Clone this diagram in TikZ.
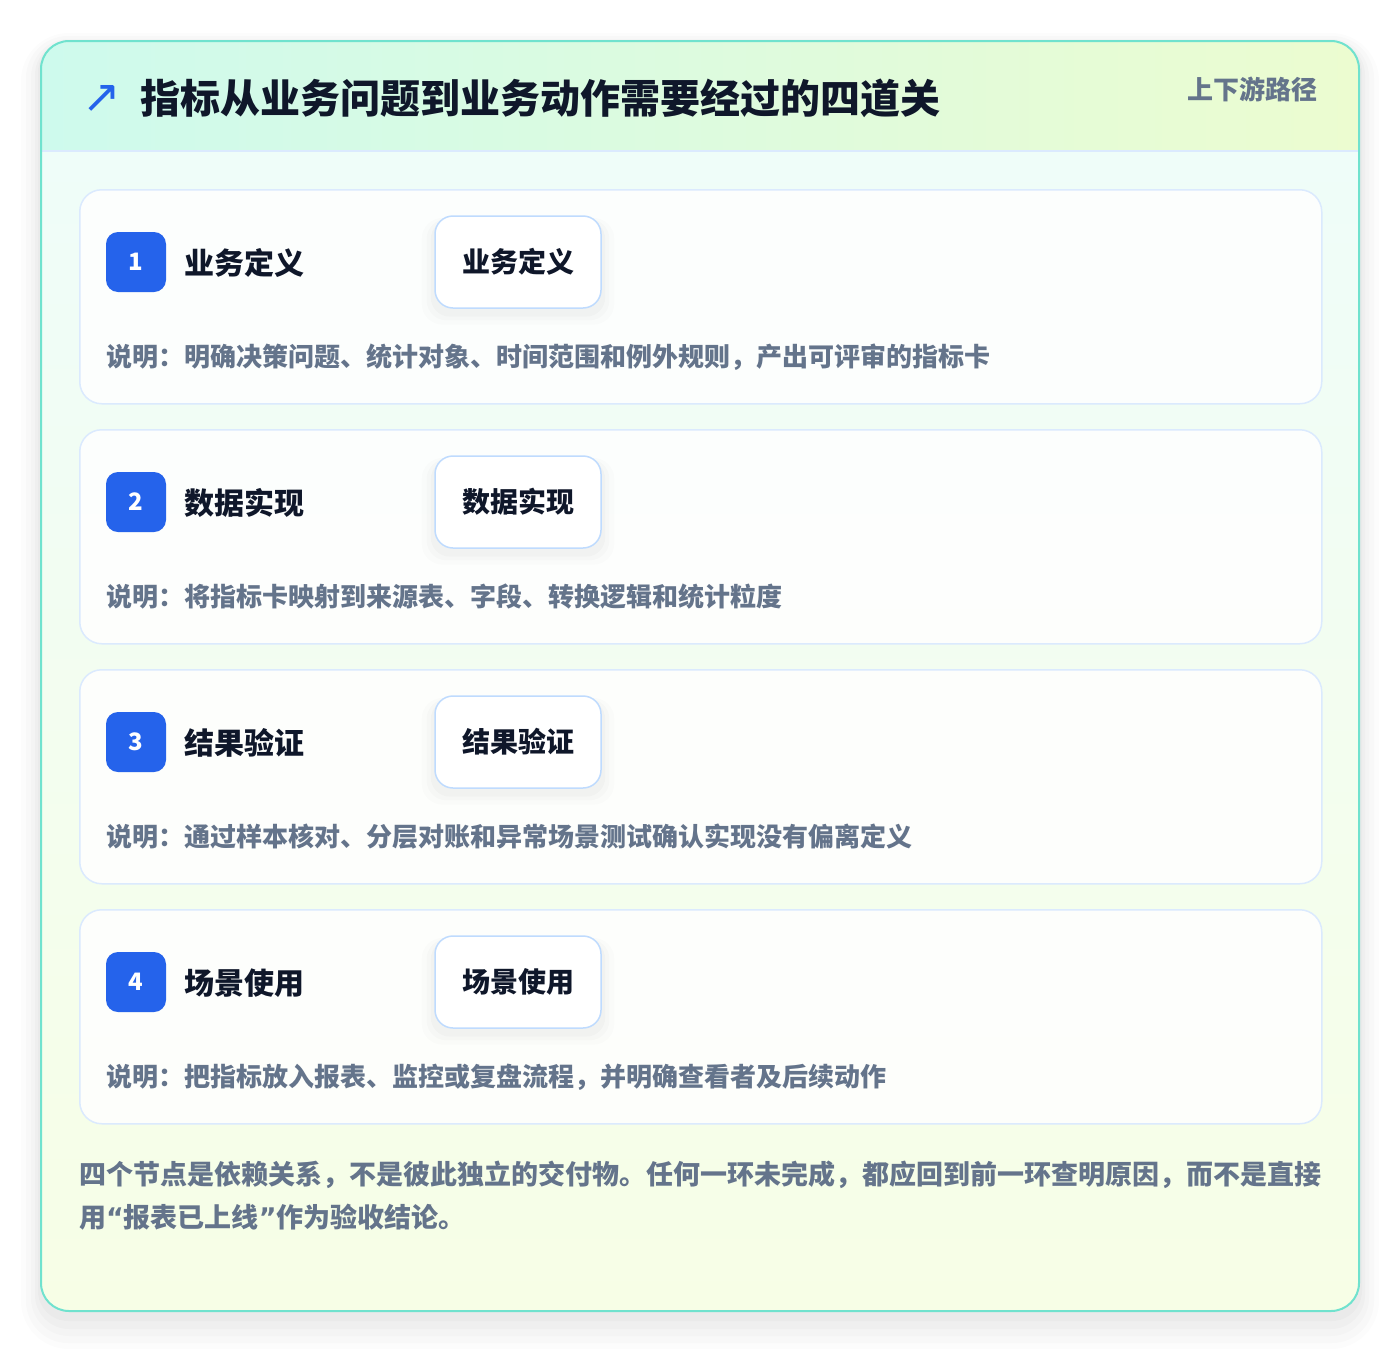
\documentclass[tikz,border=0pt]{standalone}
\usepackage{fontspec}
\setmainfont{Noto Sans CJK SC}
\newfontfamily\symfont{DejaVu Sans}
\usetikzlibrary{shadows}

\definecolor{panelline}{RGB}{112,226,206}
\definecolor{headleft}{RGB}{206,250,237}
\definecolor{headright}{RGB}{236,252,208}
\definecolor{bodytop}{RGB}{239,253,249}
\definecolor{bodybot}{RGB}{247,254,230}
\definecolor{cardline}{RGB}{219,234,254}
\definecolor{boxline}{RGB}{191,219,254}
\definecolor{badgeblue}{RGB}{37,99,235}
\definecolor{ink}{RGB}{15,23,42}
\definecolor{muted}{RGB}{100,116,139}

\begin{document}
\begin{tikzpicture}[x=1pt, y=-1pt,
  card/.style={draw=cardline, line width=1.5pt, fill=white, fill opacity=0.85, rounded corners=22pt,
    minimum width=1242pt, minimum height=214pt, anchor=north west, inner sep=0pt},
  badge/.style={fill=badgeblue, rounded corners=12pt, minimum size=60pt, inner sep=0pt,
    text=white, font=\bfseries\fontsize{24}{28}\selectfont},
  steptitle/.style={anchor=west, inner sep=0pt, text=ink, font=\bfseries\fontsize{30}{36}\selectfont},
  stagebox/.style={draw=boxline, line width=1.5pt, fill=white, rounded corners=18pt,
    minimum width=166pt, minimum height=92pt, inner sep=0pt, text=ink,
    font=\bfseries\fontsize{28}{34}\selectfont,
    drop shadow={shadow xshift=0pt, shadow yshift=-8pt, shadow scale=1.16, fill=black, opacity=0.012},
    drop shadow={shadow xshift=0pt, shadow yshift=-7pt, shadow scale=1.10, fill=black, opacity=0.016},
    drop shadow={shadow xshift=0pt, shadow yshift=-6pt, shadow scale=1.05, fill=black, opacity=0.02}},
  desc/.style={anchor=west, inner sep=0pt, text=muted, font=\bfseries\fontsize{26}{30}\selectfont},
  note/.style={anchor=west, inner sep=0pt, text=muted, font=\bfseries\fontsize{27}{32}\selectfont}]
  \useasboundingbox (0,0) rectangle (1400,1352);
  \fill[white] (0,0) rectangle (1400,1352);

  % Shadow of the panel
  \fill[black, opacity=0.012, rounded corners=48pt] (21,33) rectangle (1379,1349);
  \fill[black, opacity=0.014, rounded corners=42pt] (26,36) rectangle (1374,1343);
  \fill[black, opacity=0.016, rounded corners=38pt] (31,39) rectangle (1369,1336);
  \fill[black, opacity=0.018, rounded corners=34pt] (35,41) rectangle (1365,1329);
  \fill[black, opacity=0.02, rounded corners=30pt] (38,42) rectangle (1362,1321);

  % Panel background
  \begin{scope}
    \clip[rounded corners=28pt] (41,41) rectangle (1359,1311);
    \shade[top color=bodytop, bottom color=bodybot] (41,151) rectangle (1359,1311);
    \shade[left color=headleft, right color=headright] (41,41) rectangle (1359,151);
    \draw[cardline, line width=2pt] (41,151) -- (1359,151);
  \end{scope}
  \draw[panelline, line width=2pt, rounded corners=28pt] (41,41) rectangle (1359,1311);

  % Header
  \node[text=badgeblue, inner sep=0pt, font=\symfont\fontsize{46}{52}\selectfont] (icon) at (102,99) {↗};
  \node[anchor=west, inner sep=0pt, text=ink, font=\bfseries\fontsize{40}{48}\selectfont] (title) at (140,98) {指标从业务问题到业务动作需要经过的四道关};
  \node[anchor=east, inner sep=0pt, text=muted, font=\bfseries\fontsize{26}{30}\selectfont] (tag) at (1318,89) {上下游路径};

  % Stage 1
  \node[card] (card1) at (79,189) {};
  \node[badge] (badge1) at (136,262) {1};
  \node[steptitle] (title1) at (184,263) {业务定义};
  \node[stagebox] (box1) at (518,262) {业务定义};
  \node[desc] (desc1) at (106,357) {说明：明确决策问题、统计对象、时间范围和例外规则，产出可评审的指标卡};

  % Stage 2
  \node[card] (card2) at (79,429) {};
  \node[badge] (badge2) at (136,502) {2};
  \node[steptitle] (title2) at (184,503) {数据实现};
  \node[stagebox] (box2) at (518,502) {数据实现};
  \node[desc] (desc2) at (106,597) {说明：将指标卡映射到来源表、字段、转换逻辑和统计粒度};

  % Stage 3
  \node[card] (card3) at (79,669) {};
  \node[badge] (badge3) at (136,742) {3};
  \node[steptitle] (title3) at (184,743) {结果验证};
  \node[stagebox] (box3) at (518,742) {结果验证};
  \node[desc] (desc3) at (106,837) {说明：通过样本核对、分层对账和异常场景测试确认实现没有偏离定义};

  % Stage 4
  \node[card] (card4) at (79,909) {};
  \node[badge] (badge4) at (136,982) {4};
  \node[steptitle] (title4) at (184,983) {场景使用};
  \node[stagebox] (box4) at (518,982) {场景使用};
  \node[desc] (desc4) at (106,1077) {说明：把指标放入报表、监控或复盘流程，并明确查看者及后续动作};

  % Footnote
  \node[note] (note1) at (79,1175) {四个节点是依赖关系，不是彼此独立的交付物。任何一环未完成，都应回到前一环查明原因，而不是直接};
  \node[note] (note2) at (79,1217) {用{\symfont\bfseries “}报表已上线{\symfont\bfseries ”}作为验收结论。};
\end{tikzpicture}
\end{document}
